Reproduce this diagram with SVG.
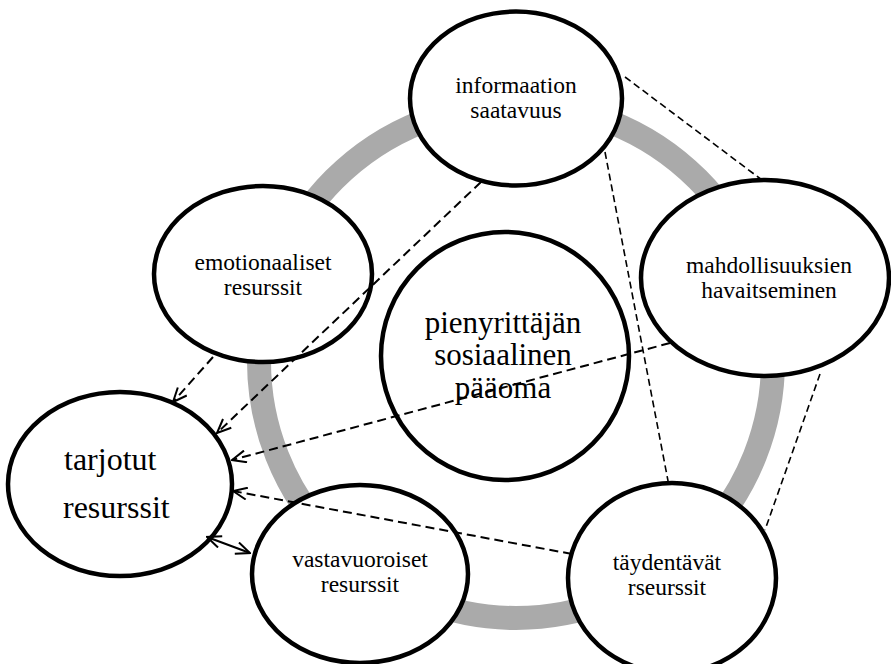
<svg xmlns="http://www.w3.org/2000/svg" width="891" height="664" viewBox="0 0 891 664">
<defs>
<style>
.node{fill:#fff;stroke:#000;stroke-width:4.5}
text{font-family:'Liberation Serif','Times New Roman',Tinos,'DejaVu Serif','Noto Serif',serif;fill:#000}
.t{font-size:23.5px;text-anchor:middle}
.big{font-size:31px}
.tar{font-size:32px;text-anchor:start}
.arr{fill:none;stroke:#000;stroke-width:2;stroke-dasharray:9 5}
.thin{fill:none;stroke:#000;stroke-width:1.6;stroke-dasharray:7 4}
.solid{fill:none;stroke:#000;stroke-width:2}
</style>
<marker id="ah" markerUnits="userSpaceOnUse" viewBox="0 0 16 14" refX="15" refY="7" markerWidth="16" markerHeight="14" orient="auto-start-reverse">
<path d="M1,1 L15,7 L1,13" fill="none" stroke="#000" stroke-width="2" stroke-dasharray="none"/>
</marker>
</defs>
<rect width="891" height="664" fill="#fff"/>
<circle id="ring" cx="516" cy="361" r="257" fill="none" stroke="#aaaaaa" stroke-width="24"/>
<g id="center" font-family="Liberation Serif, serif"><circle class="node" cx="505" cy="356" r="124"/>
<text class="t big" x="503" y="333">pienyrittäjän</text>
<text class="t big" x="503" y="365">sosiaalinen</text>
<text class="t big" x="503" y="398">pääoma</text></g>
<g id="informaation"><ellipse class="node" cx="516" cy="98.5" rx="106" ry="87"/>
<text class="t" x="516" y="93">informaation</text>
<text class="t" x="516" y="118">saatavuus</text></g>
<g id="mahdollisuuksien"><ellipse class="node" cx="765" cy="278" rx="124" ry="98"/>
<text class="t" x="769" y="273">mahdollisuuksien</text>
<text class="t" x="769" y="298">havaitseminen</text></g>
<g id="emotionaaliset"><ellipse class="node" cx="263" cy="274" rx="109" ry="88"/>
<text class="t" x="263" y="270">emotionaaliset</text>
<text class="t" x="263" y="295">resurssit</text></g>
<g id="tarjotut"><ellipse class="node" cx="120" cy="484" rx="112" ry="92"/>
<text class="t tar" x="64" y="470">tarjotut</text>
<text class="t tar" x="63" y="518">resurssit</text></g>
<g id="vastavuoroiset"><ellipse class="node" cx="360" cy="574" rx="108" ry="89"/>
<text class="t" x="360" y="567">vastavuoroiset</text>
<text class="t" x="360" y="592">resurssit</text></g>
<g id="taydentavat"><ellipse class="node" cx="672" cy="578" rx="104" ry="95"/>
<text class="t" x="667" y="570">täydentävät</text>
<text class="t" x="667" y="595">rseurssit</text></g>
<g id="connectors">
<line class="thin" x1="625" y1="77" x2="762" y2="180"/>
<line class="thin" x1="605" y1="152" x2="669" y2="486"/>
<line class="thin" x1="820" y1="374" x2="765" y2="530"/>
<line class="arr" x1="213" y1="357" x2="173" y2="402" marker-end="url(#ah)"/>
<line class="arr" x1="481" y1="182" x2="217" y2="433" marker-end="url(#ah)"/>
<line class="arr" x1="670" y1="343" x2="232" y2="460" marker-end="url(#ah)"/>
<line class="arr" x1="572" y1="554" x2="233" y2="491" marker-end="url(#ah)"/>
<line class="solid" x1="207" y1="537" x2="250" y2="553" marker-start="url(#ah)" marker-end="url(#ah)"/>
</g>
</svg>
